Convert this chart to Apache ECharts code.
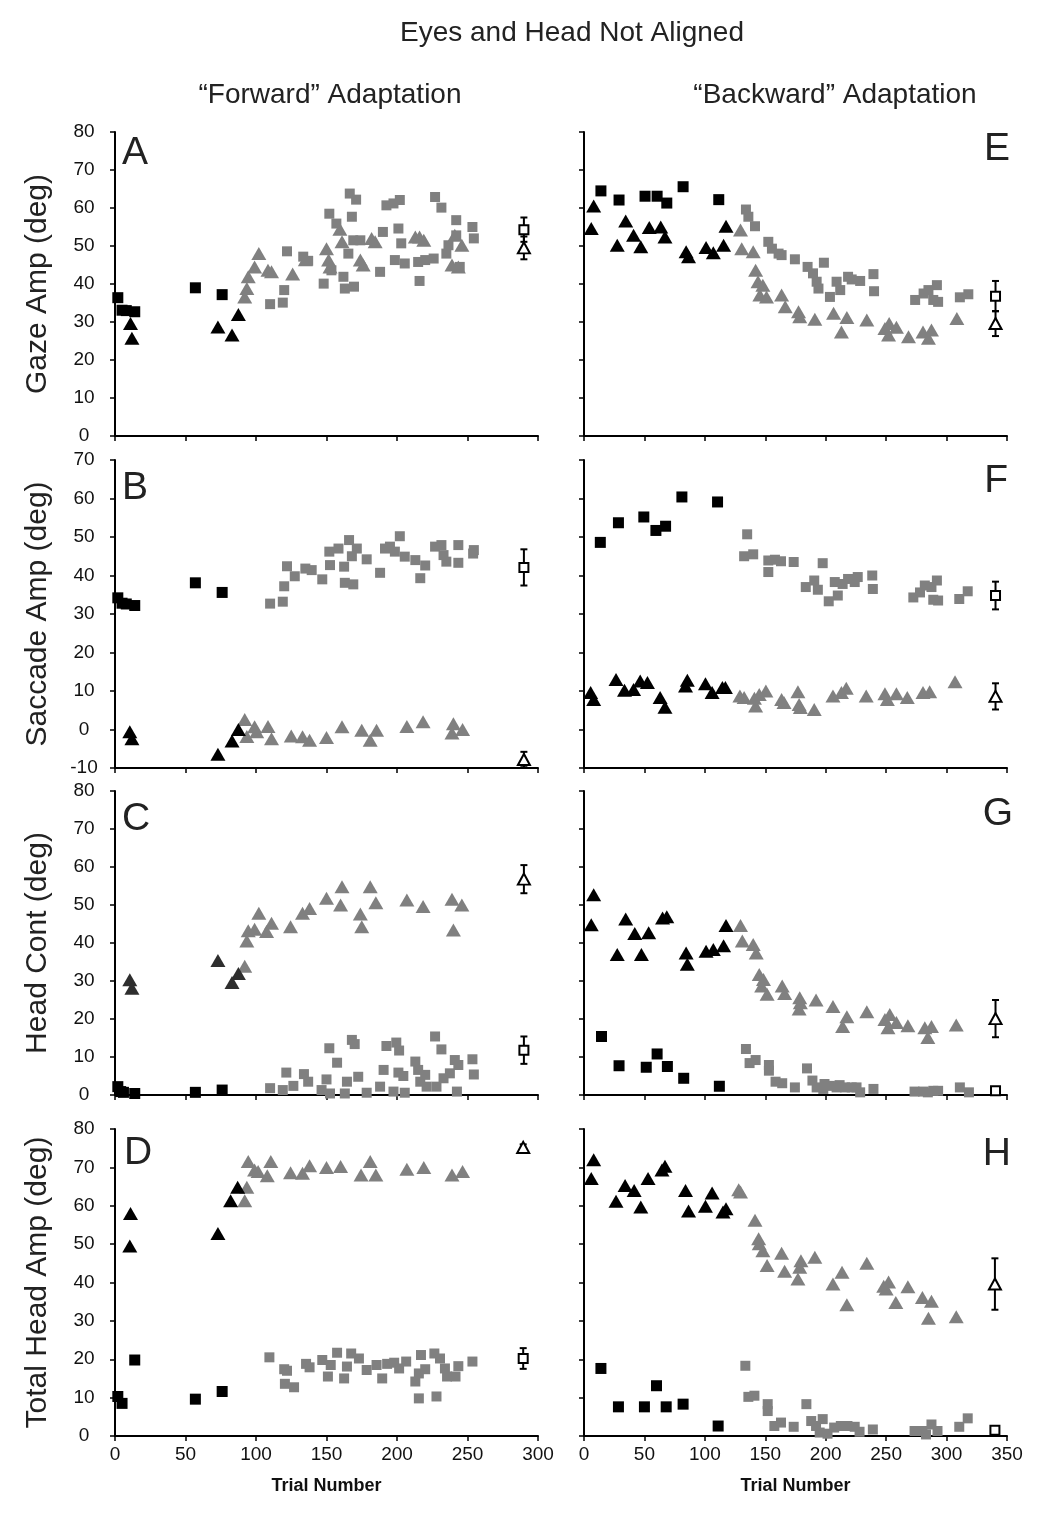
<!DOCTYPE html>
<html><head><meta charset="utf-8">
<script src="https://cdn.jsdelivr.net/npm/echarts@6/dist/echarts.min.js"></script>
<style>html,body{margin:0;padding:0;background:#fff}#c{width:1050px;height:1526px}</style>
</head><body><div id="c"></div>
<script>
// ---------- text ----------
const chartTitle = 'Eyes and Head Not Aligned';
const columnTitles = ['\u201cForward\u201d Adaptation', '\u201cBackward\u201d Adaptation'];
const yAxisNames = ['Gaze Amp (deg)', 'Saccade Amp (deg)', 'Head Cont (deg)', 'Total Head Amp (deg)'];
const xAxisTitle = 'Trial Number';
const panelLetters = ['A', 'B', 'C', 'D', 'E', 'F', 'G', 'H'];

// ---------- axis ranges ----------
const xMaxLeft = 300, xMaxRight = 350, xStep = 50;
const yRanges = [[0, 80], [-10, 70], [0, 80], [0, 80]];
const yStep = 10;

// ---------- Panel A : Gaze, forward ----------
const A_blackSq = [[2,36.4],[5,33.1],[8,33.0],[14,32.7],[57,39.0],[76,37.2]];
const A_blackTri = [[11,29.6],[12,25.7],[73,28.7],[83,26.6],[87.5,32.0]];
const A_graySq = [[110,34.7],[119,35.1],[120,38.4],[122,48.6],[133.5,47.2],[137,46.1],[148,40.1],[152,58.5],[153.5,43.6],[157,55.9],[162,41.9],[163,38.8],[165.5,48.0],[166.5,63.8],[168,57.7],[169.5,39.3],[171,62.2],[169,51.5],[174,51.5],[188,43.2],[190,53.7],[192.5,60.7],[197.5,61.2],[202,62.1],[198.5,46.3],[201,54.6],[203,50.7],[205.5,45.4],[216,40.8],[215,45.8],[220,46.3],[226,46.7],[227,62.9],[231.5,60.1],[235,48.0],[236.5,50.2],[242,56.8],[244.5,44.5],[242,52.8],[253.5,55.0],[254.5,52.0]];
const A_grayTri = [[92,36.6],[93.5,38.8],[94.5,41.9],[99,44.5],[102,48.0],[108.5,43.6],[111,43.2],[126,42.6],[135,46.4],[150,49.3],[151.5,46.3],[152.5,44.5],[159.5,54.4],[161,51.1],[174,46.3],[176,45.0],[182,52.0],[184.5,51.1],[213,52.4],[216,52.4],[219,51.5],[239,45.0],[243.5,44.5],[241,52.8],[246,50.2]];
const A_meanSq = [[290,54.3,3.2]];
const A_meanTri = [[290,49.5,3.0]];

// ---------- Panel B : Saccade, forward ----------
const B_blackSq = [[2,34.2],[5,32.8],[8,32.6],[14,32.2],[57,38.1],[76,35.6]];
const B_blackTri = [[10.5,-0.6],[12,-2.4],[73,-6.4],[83,-3.0],[87.5,0.0]];
const B_graySq = [[110,32.7],[119,33.2],[120,37.2],[122,42.4],[127.5,39.8],[135,41.8],[139.5,41.4],[147,39.0],[152.5,42.7],[152,46.2],[158.5,47.0],[162.5,42.3],[163,38.1],[166,49.2],[169,37.7],[171.5,47.0],[168,45.0],[178.5,44.2],[188,40.7],[191.5,47.0],[195,47.5],[202,50.2],[198.5,46.2],[205.5,44.9],[213,44.0],[216.5,39.3],[220,42.6],[227,47.5],[231.5,47.9],[233,45.3],[235,43.6],[243.5,47.9],[243.5,43.3],[254,45.7],[254.5,46.6]];
const B_grayTri = [[92,2.6],[93.5,-1.8],[99,0.7],[100.5,-0.6],[108.5,0.8],[111,-2.4],[125,-1.7],[133,-1.9],[138,-2.8],[150,-2.1],[161,0.7],[175,-0.2],[181,-2.8],[185.5,-0.2],[207,0.8],[218.5,2.0],[240,1.5],[239,-0.9],[246.5,0.0]];
const B_meanSq = [[290,42.1,4.7]];
const B_meanTri = [[290,-7.8,2.0]];

// ---------- Panel C : Head contribution, forward ----------
const C_blackSq = [[2,2.2],[4,0.9],[6,0.7],[14,0.4],[57,0.7],[76,1.3]];
const C_blackTri = [[10.5,30.3],[12,28.1],[73,35.4],[83,29.6],[87.5,32.0]];
const C_graySq = [[110,1.8],[119,1.3],[121.5,5.9],[126.5,2.4],[134,5.5],[137,3.5],[146.5,1.3],[150,4.1],[152,12.3],[152.5,0.4],[157.5,8.5],[163,0.4],[164.5,3.5],[168,14.5],[170,13.4],[172.5,4.8],[178.5,0.6],[188,2.2],[190.5,6.6],[192.5,12.9],[199.5,13.8],[201.5,11.7],[201,5.9],[204.5,5.0],[197.5,0.9],[205.5,0.6],[213,8.8],[215,6.6],[216.5,3.5],[220,5.3],[221,2.2],[227,15.4],[231.5,12.0],[228,2.2],[233,4.4],[237.5,5.7],[241,9.2],[243.5,7.9],[242.5,0.9],[253.5,9.4],[254.5,5.4]];
const C_grayTri = [[92,33.9],[93.5,40.5],[94.5,43.2],[99,43.6],[102,47.8],[107.5,43.0],[111,45.2],[124.5,44.3],[133,47.8],[138,49.1],[150,51.8],[161,54.8],[160,50.0],[174,47.6],[175,44.3],[181,54.8],[185,50.6],[207,51.3],[218.5,49.6],[239,51.5],[240,43.4],[246,50.0]];
const C_meanSq = [[290,11.8,3.6]];
const C_meanTri = [[290,56.8,3.7]];

// ---------- Panel D : Total head amplitude, forward ----------
const D_blackSq = [[2,10.3],[5,8.5],[14,19.8],[57,9.6],[76,11.6]];
const D_blackTri = [[10.5,49.5],[11,58.0],[73,52.8],[82,61.3],[87,64.8]];
const D_graySq = [[109.5,20.5],[120,17.4],[122,17.0],[120.5,13.6],[127,12.7],[135.5,18.8],[138,17.9],[147,19.8],[151,15.5],[153,18.5],[157.5,21.7],[162.5,15.0],[164.5,18.1],[167.5,21.5],[173,20.2],[178.5,17.2],[185.5,18.5],[189.5,15.0],[193,18.8],[198,19.1],[201.5,17.6],[206.5,19.4],[213,14.2],[215.5,16.3],[217,21.1],[220,17.4],[215.5,9.8],[226.5,21.5],[228,10.3],[230.5,20.2],[234,17.6],[235.5,15.5],[241.5,15.5],[243.5,18.2],[253.5,19.4]];
const D_grayTri = [[92,61.3],[93.5,64.8],[94.5,71.5],[99,69.3],[101.5,68.9],[108,67.8],[110.5,71.5],[124.5,68.6],[133,68.5],[138,70.4],[150,70.0],[160,70.2],[174.5,68.0],[181,71.5],[185,68.0],[207,69.5],[219,70.0],[239,68.0],[246.5,68.9]];
const D_meanSq = [[289.5,20.2,2.7]];
const D_meanTri = [[289.5,75.2,0.8]];

// ---------- Panel E : Gaze, backward ----------
const E_blackSq = [[14,64.5],[29,62.1],[50.5,63.1],[60.5,63.1],[68.5,61.3],[82,65.6],[111.5,62.2]];
const E_blackTri = [[6,54.6],[8,60.5],[27.5,50.2],[34.5,56.6],[41,52.8],[47,49.8],[54,54.9],[63.5,55.0],[67,52.4],[84.5,48.5],[86.5,47.2],[101,49.6],[107,48.2],[115.5,50.2],[117.5,55.2]];
const E_graySq = [[134,59.6],[136,57.7],[141.5,55.2],[152.5,51.1],[155.5,49.3],[161,48.0],[163.5,47.6],[174.5,46.5],[185,44.5],[189.5,42.8],[192.5,40.6],[194,38.8],[198.5,45.6],[203.5,36.6],[209,40.6],[212,38.4],[218.5,41.9],[221.5,41.2],[228.5,40.8],[239.5,42.6],[240,38.1],[274,35.8],[281,37.5],[285,38.4],[289,35.8],[292,39.7],[293,35.3],[311,36.5],[318,37.3]];
const E_grayTri = [[129.5,54.2],[130.5,49.3],[140,48.5],[142,43.6],[144,40.6],[145.5,37.1],[148,39.7],[151,36.6],[163.5,37.1],[166.5,34.0],[177.5,32.7],[178.5,31.4],[191,30.7],[206.5,32.3],[213,27.4],[217.5,31.2],[234,30.5],[249,28.3],[252,26.6],[252.5,29.6],[258.5,28.6],[268.5,26.1],[280.5,27.4],[285,25.7],[287.5,27.9],[308.5,30.9]];
const E_meanSq = [[340.5,36.8,4.0]];
const E_meanTri = [[340.5,29.6,3.3]];

// ---------- Panel F : Saccade, backward ----------
const F_blackSq = [[13.5,48.6],[28.5,53.7],[49.5,55.2],[59.5,51.7],[67.5,52.8],[81,60.4],[110.5,59.1]];
const F_blackTri = [[5.5,9.6],[8,7.8],[26.5,13.0],[33.5,10.2],[41,10.4],[46.5,12.6],[52.5,12.2],[63,8.3],[67,5.8],[84,11.3],[85.5,12.8],[100.5,11.9],[106,9.6],[114.5,10.9],[117,10.9]];
const F_graySq = [[135,50.7],[132.5,45.0],[140,45.5],[152.5,43.9],[152.5,40.9],[158,44.1],[163,43.7],[173.5,43.5],[183.5,37.0],[190.5,38.7],[193.5,36.3],[197.5,43.2],[202.5,33.3],[207.5,38.3],[210,34.8],[214,37.8],[218.5,39.1],[224,38.3],[226.5,39.6],[238.5,40.0],[239,36.5],[272.5,34.3],[278,35.6],[282,37.4],[287.5,37.0],[292,38.7],[289,33.7],[293,33.5],[310.5,33.9],[317.5,35.9]];
const F_grayTri = [[129,8.7],[132.5,8.3],[141,8.1],[142,6.1],[145,9.1],[150.5,10.0],[163.5,7.8],[165.5,7.0],[177,9.8],[178,6.5],[179,5.7],[190.5,5.2],[206,8.7],[213,9.6],[217,10.7],[233.5,8.7],[249,9.3],[251,7.8],[258.5,9.3],[267.5,8.3],[280.5,9.6],[286,9.8],[307,12.4]];
const F_meanSq = [[340.5,34.8,3.6]];
const F_meanTri = [[340.5,8.6,3.4]];

// ---------- Panel G : Head contribution, backward ----------
const G_blackSq = [[14.5,15.4],[29,7.7],[51.5,7.3],[60.5,10.8],[69,7.5],[82.5,4.4],[112,2.3]];
const G_blackTri = [[6,44.8],[8,52.7],[27.5,37.0],[34.5,46.3],[42,42.5],[47.5,37.0],[53.5,42.7],[65,46.6],[68.5,46.9],[84.5,37.4],[85.5,34.4],[101,37.8],[107,38.3],[115.5,39.3],[117.5,44.6]];
const G_graySq = [[134,12.1],[137,8.4],[142,9.2],[153,7.9],[153,6.4],[158.5,3.5],[164,3.1],[174.5,2.0],[184.5,7.0],[189,3.8],[192.5,2.0],[198,1.6],[199,2.9],[203.5,2.4],[209,2.0],[211.5,2.6],[216,2.0],[221.5,2.0],[225.5,2.0],[228.5,0.7],[239.5,1.6],[273.5,0.9],[280.5,0.9],[284.5,0.7],[289,1.1],[293,1.1],[311,2.0],[318.5,0.7]];
const G_grayTri = [[129.5,44.6],[131,40.5],[140,39.6],[142.5,37.4],[145,31.7],[148.5,30.4],[147,28.7],[151.5,26.5],[164,28.7],[166,26.7],[178.5,25.6],[179,24.3],[178,22.6],[192,25.0],[206,23.3],[214,18.0],[217.5,20.6],[234,21.9],[249,19.9],[251.5,17.7],[253,21.2],[258.5,19.1],[268,18.2],[282,17.7],[284.5,15.1],[287.5,18.0],[308,18.4]];
const G_meanSq = [[340.5,1.1,0.3]];
const G_meanTri = [[340.5,20.1,4.9]];

// ---------- Panel H : Total head amplitude, backward ----------
const H_blackSq = [[14,17.6],[28.5,7.6],[50,7.6],[60,13.1],[68,7.6],[82,8.3],[111,2.6]];
const H_blackTri = [[6,67.1],[8,72.0],[26.5,61.2],[34,65.3],[41.5,64.0],[47,59.7],[53,67.1],[64.5,69.3],[67,70.3],[84,64.0],[86.5,58.6],[100.5,59.9],[106,63.3],[115,58.4],[117.5,59.2]];
const H_graySq = [[133.5,18.3],[136,10.2],[141,10.5],[152,8.3],[152,6.5],[157.5,2.6],[163,3.5],[173.5,2.4],[184,8.3],[188,3.9],[192,2.6],[197.5,4.4],[195,0.9],[201.5,0.6],[207,2.2],[212.5,2.6],[218,2.6],[224,2.4],[228,1.1],[239,1.7],[273.5,1.3],[280,1.3],[283,0.4],[287.5,3.0],[292.5,1.3],[310.5,2.4],[317.5,4.6]];
const H_grayTri = [[128,64.2],[129.5,63.6],[141.5,56.2],[144.5,51.4],[145,50.1],[148,48.3],[151.5,44.4],[163.5,47.6],[166,42.9],[177,40.9],[178.5,44.0],[179.5,45.7],[191,46.6],[206,39.6],[213.5,42.7],[217.5,34.2],[234,45.0],[248,39.0],[250,38.3],[252,40.1],[258,34.8],[268,38.9],[280,36.1],[285,30.7],[287.5,35.1],[308,31.1]];
const H_meanSq = [[340,1.5,0.3]];
const H_meanTri = [[340,39.6,6.7]];

// ---------- assembly ----------
const panelData = [
  [A_blackSq, A_blackTri, A_graySq, A_grayTri, A_meanSq, A_meanTri],
  [B_blackSq, B_blackTri, B_graySq, B_grayTri, B_meanSq, B_meanTri],
  [C_blackSq, C_blackTri, C_graySq, C_grayTri, C_meanSq, C_meanTri],
  [D_blackSq, D_blackTri, D_graySq, D_grayTri, D_meanSq, D_meanTri],
  [E_blackSq, E_blackTri, E_graySq, E_grayTri, E_meanSq, E_meanTri],
  [F_blackSq, F_blackTri, F_graySq, F_grayTri, F_meanSq, F_meanTri],
  [G_blackSq, G_blackTri, G_graySq, G_grayTri, G_meanSq, G_meanTri],
  [H_blackSq, H_blackTri, H_graySq, H_grayTri, H_meanSq, H_meanTri]
];

const FONT = '"Liberation Sans", Arial, Helvetica, sans-serif';
const GRAY = '#808080';
const colLeft = [115, 584], colWidth = 423;
const rowTop = [132, 460, 791, 1129], rowHeight = [304, 308, 304, 307];
const letterPos = [[122,153],[122,488],[122,819],[124,1153],[1010,149],[1008,481],[1013,814],[1011,1154]];

const grids = [], xAxes = [], yAxes = [], series = [], graphics = [];

function errRender(params, api) {
  const x = api.value(0), y = api.value(1), e = api.value(2);
  const t = api.coord([x, y + e]), b = api.coord([x, y - e]);
  const w = 3.5, st = { stroke: '#000', lineWidth: 2 };
  return { type: 'group', children: [
    { type: 'line', shape: { x1: t[0], y1: t[1], x2: b[0], y2: b[1] }, style: st },
    { type: 'line', shape: { x1: t[0] - w, y1: t[1], x2: t[0] + w, y2: t[1] }, style: st },
    { type: 'line', shape: { x1: b[0] - w, y1: b[1], x2: b[0] + w, y2: b[1] }, style: st }
  ]};
}

for (let p = 0; p < 8; p++) {
  const col = p < 4 ? 0 : 1, row = p % 4;
  grids.push({ left: colLeft[col], top: rowTop[row], width: colWidth, height: rowHeight[row], containLabel: false });
  const axisLine = { show: true, onZero: false, lineStyle: { color: '#000', width: 2 } };
  const axisTick = { show: true, inside: false, length: 5, lineStyle: { color: '#000', width: 1.5 } };
  xAxes.push({
    gridIndex: p, type: 'value', min: 0, max: col === 0 ? xMaxLeft : xMaxRight, interval: xStep,
    axisLine, axisTick, splitLine: { show: false },
    axisLabel: { show: row === 3, fontFamily: FONT, fontSize: 19, color: '#111', margin: 9 },
    name: row === 3 ? xAxisTitle : '', nameLocation: 'middle', nameGap: 41,
    nameTextStyle: { fontFamily: FONT, fontSize: 18, fontWeight: 'bold', color: '#111' }
  });
  yAxes.push({
    gridIndex: p, type: 'value', min: yRanges[row][0], max: yRanges[row][1], interval: yStep,
    axisLine, axisTick, splitLine: { show: false },
    axisLabel: { show: col === 0, fontFamily: FONT, fontSize: 19, color: '#111', margin: 31, align: 'center' },
    name: col === 0 ? yAxisNames[row] : '', nameLocation: 'middle', nameRotate: 90, nameGap: 62,
    nameTextStyle: { fontFamily: FONT, fontSize: 30, color: '#222' }
  });
  const [bSq, bTri, gSq, gTri, mSq, mTri] = panelData[p];
  const base = { type: 'scatter', xAxisIndex: p, yAxisIndex: p, silent: true };
  series.push(Object.assign({}, base, { data: gTri, symbol: 'triangle', symbolSize: [15, 13], itemStyle: { color: GRAY, opacity: 1 }, z: 2 }));
  series.push(Object.assign({}, base, { data: gSq, symbol: 'rect', symbolSize: 10, itemStyle: { color: GRAY, opacity: 1 }, z: 3 }));
  series.push(Object.assign({}, base, { data: bTri, symbol: 'triangle', symbolSize: [15, 13], itemStyle: { color: p === 2 ? '#2e2e2e' : '#000', opacity: 1 }, z: 4 }));
  series.push(Object.assign({}, base, { data: bSq, symbol: 'rect', symbolSize: 11, itemStyle: { color: '#000', opacity: 1 }, z: 4 }));
  series.push({ type: 'custom', xAxisIndex: p, yAxisIndex: p, silent: true, renderItem: errRender,
    encode: { x: 0, y: 1 }, data: mSq.concat(mTri), z: 5 });
  series.push(Object.assign({}, base, { data: mSq.map(d => [d[0], d[1]]), symbol: 'rect', symbolSize: 9,
    itemStyle: { color: '#fff', borderColor: '#000', borderWidth: 2, opacity: 1 }, z: 6 }));
  series.push(Object.assign({}, base, { data: mTri.map(d => [d[0], d[1]]), symbol: 'triangle', symbolSize: [12, 11],
    itemStyle: { color: '#fff', borderColor: '#000', borderWidth: 2, opacity: 1 }, z: 6 }));
  graphics.push({ type: 'text', x: letterPos[p][0], y: letterPos[p][1],
    style: { text: panelLetters[p], font: '39px ' + FONT, fill: '#222',
      textAlign: col === 0 ? 'left' : 'right', textVerticalAlign: 'middle' } });
}

graphics.push({ type: 'text', x: 572, y: 33, style: { text: chartTitle, font: '28px ' + FONT, fill: '#222', textAlign: 'center', textVerticalAlign: 'middle' } });
graphics.push({ type: 'text', x: 330, y: 95, style: { text: columnTitles[0], font: '28px ' + FONT, fill: '#222', textAlign: 'center', textVerticalAlign: 'middle' } });
graphics.push({ type: 'text', x: 835, y: 95, style: { text: columnTitles[1], font: '28px ' + FONT, fill: '#222', textAlign: 'center', textVerticalAlign: 'middle' } });

const chart = echarts.init(document.getElementById('c'), null, { renderer: 'canvas' });
chart.setOption({
  animation: false,
  backgroundColor: '#fff',
  grid: grids, xAxis: xAxes, yAxis: yAxes, series: series, graphic: graphics
});
</script></body></html>
